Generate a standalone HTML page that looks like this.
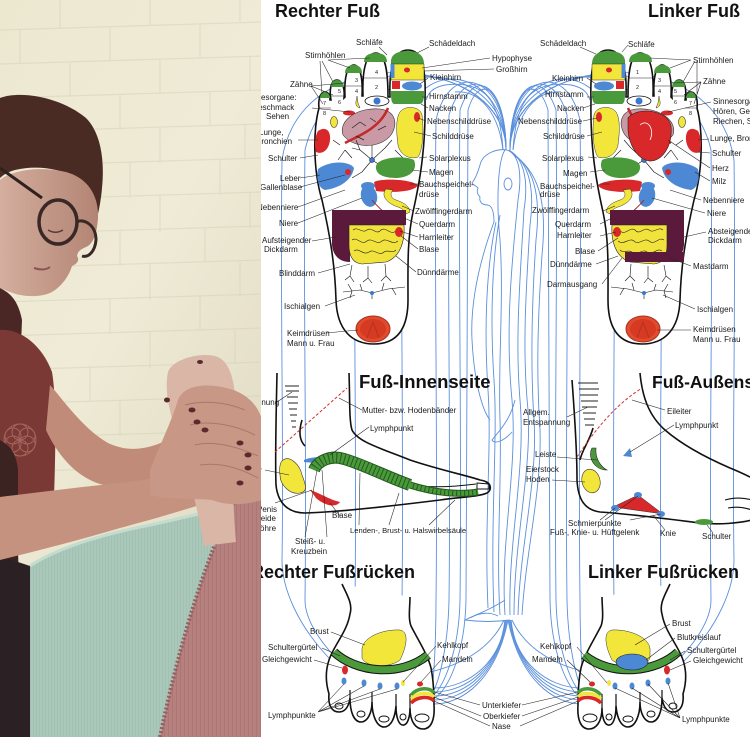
<!DOCTYPE html>
<html><head><meta charset="utf-8"><style>
html,body{margin:0;padding:0;background:#fff;}
svg{display:block;}
text{font-family:"Liberation Sans",Arial,sans-serif;}
.l{font-size:8px;fill:#1a1a1a;}
.n{font-size:5.5px;fill:#222;}
.t{font-size:18px;font-weight:bold;fill:#111;}
</style></head><body>
<svg width="750" height="737" viewBox="0 0 750 737" xmlns="http://www.w3.org/2000/svg">
<defs>
<clipPath id="pc"><rect x="0" y="0" width="261" height="737"/></clipPath>
<linearGradient id="wall" x1="0" y1="0" x2="0.6" y2="1">
<stop offset="0" stop-color="#ece8d0"/><stop offset="0.5" stop-color="#efebd6"/><stop offset="1" stop-color="#dfd9c1"/></linearGradient>
<linearGradient id="face" x1="0" y1="0" x2="1" y2="0">
<stop offset="0" stop-color="#d4ae9e"/><stop offset="1" stop-color="#b38474"/></linearGradient>
<pattern id="st" width="3" height="10" patternUnits="userSpaceOnUse"><rect width="3" height="10" fill="#aac8ba"/><rect width="1" height="10" fill="#a2c1b3"/></pattern>
<pattern id="pk" width="4" height="8" patternUnits="userSpaceOnUse"><rect width="4" height="8" fill="#b6807f"/><rect width="1" height="8" fill="#ab7675"/></pattern>

<g id="bl" fill="none" stroke="#5a8fdc" stroke-width="0.9">
<path d="M506,150 C506,90 480,70 468,110 C466,250 468,450 466,600 C465,650 450,690 432,700"/>
<path d="M506,150 C506,85 475,65 460,110 C458,250 462,450 460,600 C459,650 445,685 432,697"/>
<path d="M506,150 C506,80 465,62 449,115 C447,250 451,450 449,600 C448,645 440,680 432,694"/>
<path d="M506,150 C506,75 450,58 436,120 C434,260 438,450 436,600 C436,640 434,675 432,690"/>
<path d="M506,150 C506,70 420,50 402,130 C400,260 404,450 402,600 C402,640 410,680 430,703"/>
<path d="M506,150 C506,65 380,45 355,140 C353,280 357,450 355,600 C355,640 390,690 428,706"/>
<path d="M506,150 C506,60 330,40 305,150 C303,300 307,450 305,600 C305,640 370,700 426,709"/>
<path d="M506,150 C506,55 300,35 282,160 C280,300 284,450 282,560 C282,620 350,700 424,712"/>
<path d="M503,150 C500,100 485,80 445,85 C430,88 428,95 426,100"/>
<path d="M503,150 C498,110 478,90 455,92"/>
<path d="M505,620 C502,660 470,688 434,688"/>
<path d="M505,620 C500,665 468,692 434,692"/>
<path d="M506,620 C498,670 466,696 434,696"/>
<path d="M507,620 C497,675 464,700 434,700"/>
<path d="M508,620 C496,680 462,704 434,704"/>
<path d="M504,620 C490,650 460,665 430,672"/>
</g>

<g id="sole">
<path d="M319,108 C313,130 313,170 322,200 C330,235 335,265 336,300 C337,330 352,344 374,344 C396,344 408,330 408,300 C408,268 407,240 413,212 C419,185 426,150 425,100 C426,70 423,50 408,50 C393,50 389,70 390,97 L388,97 C388,70 385,53 376,53 C366,53 362,70 363,96 L362,96 C363,78 360,65 354,65 C347,65 344,78 345,97 L344,98 C345,88 342,80 337,80 C331,80 329,90 331,100 L330,100 C330,95 328,92 325,92 C320,92 318,100 319,108Z" fill="#fff" stroke="#111" stroke-width="1.6"/>
<path d="M391,64 C390,55 396,51 408,51 C419,51 424,56 424,64Z" fill="#4a9a3c"/>
<rect x="391" y="64" width="33" height="16" fill="#f2e63a" stroke="#333" stroke-width=".5"/>
<rect x="390.5" y="64" width="4" height="14" fill="#4d88d4"/>
<ellipse cx="407" cy="70" rx="3" ry="2.5" fill="#d8282a"/>
<rect x="392" y="81" width="8" height="8" fill="#d8282a"/>
<ellipse cx="412" cy="86" rx="10" ry="4.5" fill="#4d88d4"/>
<path d="M391,91 L424,91 C424,98 424,103 420,104 L394,104 C391,103 391,98 391,91Z" fill="#4a9a3c"/>
<path d="M364,62 C364,56 368,53 376,53 C383,53 387,56 387,62Z" fill="#4a9a3c"/>
<path d="M345,73 C345,68 348,65 354,65 C359,65 362,68 362,73Z" fill="#4a9a3c"/>
<path d="M331,87 C331,83 333,80 337,80 C341,80 344,83 344,87Z" fill="#4a9a3c"/>
<path d="M320,98 C320,95 322,92 325,92 C328,92 330,95 330,98Z" fill="#4a9a3c"/>
<path d="M364,78 L387,78 M346,86 L362,86 M331,96 L344,96 M320,108 L331,108" stroke="#222" stroke-width=".6"/>
<ellipse cx="377" cy="101" rx="12" ry="5" fill="#fff" stroke="#111" stroke-width=".8"/>
<circle cx="377" cy="101" r="3.5" fill="#3b78cf"/>
<path d="M357,96 C356,102 354,106 360,108 L358,103Z" fill="#f2e63a" stroke="#333" stroke-width=".5"/>
<ellipse cx="349" cy="113" rx="6" ry="2.5" fill="#d8282a"/>
<ellipse cx="334" cy="122" rx="3.5" ry="5.5" fill="#f2e63a" stroke="#333" stroke-width=".6"/>
<path d="M343,135 C338,120 358,107 380,109 C396,111 398,124 391,135 C381,148 355,150 343,135Z" fill="#c99aa5" stroke="#333" stroke-width=".6"/>
<path d="M388,108 C384,118 376,126 366,132 C358,137 350,140 345,143" stroke="#c42828" stroke-width="2.5" fill="none"/>
<path d="M352,128 L360,122 M360,122 L366,126 M370,118 L376,122 M356,136 L364,140 M378,130 L386,126" stroke="#222" stroke-width=".7" fill="none"/>
<path d="M318,131 C325,126 331,130 330,140 C329,150 322,155 316,152 C314,145 315,136 318,131Z" fill="#d8282a"/>
<path d="M400,112 C405,105 420,106 422,115 C424,130 423,150 418,157 C410,160 400,155 398,145 C396,130 396,118 400,112Z" fill="#f2e63a" stroke="#333" stroke-width=".5"/>
<ellipse cx="417" cy="117" rx="3" ry="5" fill="#d8282a"/>
<path d="M372,160 L360,150 M372,160 L385,148 M372,160 L362,172 M372,160 L388,170 M372,160 L372,145 M360,150 L352,148 M360,150 L356,140 M385,148 L392,140 M362,172 L352,178 M345,150 L338,160 M345,150 L352,158 M395,150 L405,160 M340,145 L333,140" stroke="#111" stroke-width=".6" fill="none"/>
<circle cx="372" cy="160" r="2.5" fill="#3b78cf" stroke="#111" stroke-width=".5"/>
<path d="M376,166 C378,157 405,155 414,160 C418,170 410,178 395,178 C385,178 375,175 376,166Z" fill="#4a9a3c"/>
<path d="M318,169 C330,160 350,161 354,168 C352,180 340,188 325,190 C318,188 316,178 318,169Z" fill="#4d88d4"/>
<ellipse cx="348" cy="172" rx="3" ry="3" fill="#d8282a"/>
<path d="M374,182 C382,178 410,179 418,185 C415,192 392,193 376,191Z" fill="#d8282a"/>
<ellipse cx="368" cy="186" rx="7" ry="4" fill="#4d88d4"/>
<ellipse cx="369" cy="196" rx="8" ry="11" fill="#4d88d4" transform="rotate(-15 369 196)"/>
<path d="M386,189 C380,196 388,204 398,207 C404,209 406,213 406,214 L410,212 C409,205 402,202 396,200 C390,198 390,193 393,190Z" fill="#f2e63a" stroke="#333" stroke-width=".5"/>
<path d="M372,200 C380,210 392,218 399,228" stroke="#b02020" stroke-width="1" fill="none"/>
<path d="M332,210 L406,210 L406,225 L350,225 L350,262 C340,262 333,256 332,245Z" fill="#5b1a3b"/>
<path d="M349,225 L404,225 C405,240 401,257 386,262 L362,264 C352,263 349,255 349,245Z" fill="#f1e33c" stroke="#222" stroke-width=".6"/>
<path d="M353,230 C358,226 362,234 367,230 C372,226 376,236 381,230 C386,226 390,236 396,231 M352,240 C357,236 361,246 367,241 C372,237 377,246 382,241 C387,237 392,246 398,241 M354,251 C359,247 363,256 369,252 C374,248 379,257 384,252 C388,249 392,254 396,250" stroke="#222" stroke-width=".6" fill="none"/>
<ellipse cx="399" cy="232" rx="4" ry="5" fill="#d8282a"/>
<path d="M352,265 L350,276 M350,276 L345,280 M350,276 L354,282 M368,266 L368,278 M368,278 L363,282 M368,278 L372,283 M385,264 L386,276 M386,276 L381,281 M386,276 L391,281 M343,292 L360,290 L372,293 L388,289 L405,287 M352,291 L348,284 M352,291 L350,298 M362,290 L360,284 M382,290 L384,283 M392,288 L396,295 M372,293 L372,299" stroke="#111" stroke-width=".6" fill="none"/>
<circle cx="372" cy="293" r="2" fill="#3b78cf"/>
<ellipse cx="373" cy="329" rx="17" ry="13" fill="#e24b2c" stroke="#a83222" stroke-width="1"/>
<ellipse cx="373" cy="329" rx="13" ry="10" fill="#d63a22"/>
<path d="M373,322 L367,338 M373,322 L379,338" stroke="#a83222" stroke-width=".8"/>
</g>

<g id="dors">
<path d="M342,584 C347,595 353,604 350,614 C347,632 334,645 329,660 C325,672 326,684 329,694 C328,704 331,712 339,712 C346,712 349,705 350,698 C350,712 354,722 361,722 C368,722 372,712 372,702 C372,716 377,727 384,727 C391,727 395,718 396,706 C396,718 399,726 404,725 C408,724 410,716 410,708 C410,722 416,729 423,729 C431,729 435,720 434,705 C434,690 433,678 431,668 C428,655 418,640 411,626 C408,618 410,607 410,597" fill="#fff" stroke="#111" stroke-width="1.6"/>
<path d="M350,698 L350,690 M372,702 L372,692 M396,706 L396,694 M410,708 L410,694" stroke="#111" stroke-width="1.2"/>
<ellipse cx="339" cy="706" rx="4" ry="3" fill="none" stroke="#111" stroke-width="1"/>
<ellipse cx="361" cy="714" rx="4" ry="3" fill="none" stroke="#111" stroke-width="1"/>
<ellipse cx="384" cy="719" rx="5" ry="3" fill="none" stroke="#111" stroke-width="1"/>
<ellipse cx="403" cy="717" rx="3" ry="3" fill="none" stroke="#111" stroke-width="1"/>
<ellipse cx="422" cy="718" rx="7" ry="4" fill="none" stroke="#111" stroke-width="1"/>
<path d="M362,652 C360,638 382,629 400,630 C410,632 406,648 400,660 C390,668 366,668 362,658Z" fill="#f2e63a" stroke="#333" stroke-width=".5"/>
<path d="M334,652 C355,672 400,678 428,655" fill="none" stroke="#111" stroke-width="9"/>
<path d="M334,652 C355,672 400,678 428,655" fill="none" stroke="#4a9a3c" stroke-width="7"/>
<ellipse cx="345" cy="670" rx="3" ry="4.5" fill="#d8282a"/>
<ellipse cx="344" cy="681" rx="2.5" ry="3.5" fill="#4d88d4"/>
<ellipse cx="364" cy="683" rx="2.5" ry="3.5" fill="#4d88d4"/>
<ellipse cx="380" cy="686" rx="2.5" ry="3.5" fill="#4d88d4"/>
<ellipse cx="397" cy="686" rx="2.5" ry="3.5" fill="#4d88d4"/>
<ellipse cx="403" cy="683" rx="2" ry="3" fill="#f2e63a"/>
<ellipse cx="420" cy="684" rx="3" ry="2.5" fill="#d8282a"/>
<path d="M411,695 C418,687 430,687 434,693" stroke="#4a9a3c" stroke-width="3.5" fill="none"/>
<path d="M411,699 C418,692 430,692 434,697" stroke="#f2e63a" stroke-width="3.5" fill="none"/>
<path d="M411,703 C418,696 430,696 434,701" stroke="#d8282a" stroke-width="3.5" fill="none"/>
</g>
</defs>

<rect width="750" height="737" fill="#fff"/>

<use href="#bl"/>
<use href="#bl" transform="translate(1016,0) scale(-1,1)"/>
<g fill="none" stroke="#5a8fdc" stroke-width="0.9">
<path d="M507,150 C495,148 482,155 480,165 C478,172 476,178 472,183 C474,186 477,186 478,188 C476,192 478,195 480,197 C479,202 482,205 488,205 C492,206 494,212 494,222"/>
<ellipse cx="508" cy="184" rx="4" ry="6"/>
<path d="M507,150 C520,155 522,175 518,200 C512,260 505,330 512,400 C518,470 500,540 505,615"/>
<path d="M509,150 C526,160 528,185 524,210 C520,280 515,340 520,400 C526,470 508,540 510,615"/>
<path d="M511,152 C532,165 534,195 530,225 C526,290 522,350 528,410 C532,470 514,540 514,615"/>
<path d="M513,154 C538,170 540,205 536,240 C532,300 530,360 534,420 C538,480 520,545 518,615"/>
<path d="M515,156 C544,176 546,215 542,255 C538,315 536,370 540,430 C542,490 526,550 522,615"/>
<path d="M505,150 C498,160 496,200 500,240 C504,300 498,360 500,420 C502,480 496,550 500,615"/>
<path d="M500,215 C492,260 490,320 494,380 C498,440 490,520 494,612"/>
<path d="M496,222 C486,270 484,330 488,390 C492,450 484,520 488,608"/>
<path d="M494,222 C480,260 470,300 472,340 C474,380 482,410 490,420"/>
<path d="M515,400 C510,420 500,430 492,440 C495,445 505,440 512,432"/>
<path d="M505,600 C490,610 475,615 465,620 C480,622 495,622 510,620"/>
<path d="M470,618 C480,612 490,612 498,616"/>
</g>

<use href="#sole"/>
<use href="#sole" transform="translate(1016,0) scale(-1,1)"/>
<path d="M628,118 C638,106 668,110 671,126 C673,146 662,162 649,161 C638,159 629,146 628,130Z" fill="#d8282a" stroke="#222" stroke-width=".6"/>
<path d="M640,125 C648,118 655,130 650,140" stroke="#fff" stroke-width=".8" fill="none"/>
<path d="M625,252 L684,252 L684,262 L625,262Z" fill="#5b1a3b"/>
<g class="n">
<text x="375" y="74">4</text><text x="375" y="89">2</text><text x="355" y="82">3</text><text x="355" y="93">4</text>
<text x="338" y="93">5</text><text x="338" y="104">6</text><text x="323" y="105">7</text><text x="323" y="115">8</text>
<text x="636" y="74">1</text><text x="636" y="89">2</text><text x="658" y="82">3</text><text x="658" y="93">4</text>
<text x="674" y="93">5</text><text x="674" y="104">6</text><text x="689" y="105">7</text><text x="689" y="115">8</text>
</g>

<use href="#dors"/>
<use href="#dors" transform="translate(1012,0) scale(-1,1)"/>
<ellipse cx="632" cy="662" rx="16" ry="8" fill="#4d88d4" stroke="#222" stroke-width=".6"/>

<g fill="none" stroke="#111" stroke-width="1.6">
<path d="M277,373 C276,420 275,460 276,485 C278,505 290,513 305,513 C340,512 400,505 440,500 C460,497 478,497 487,493 C492,490 491,484 486,482"/>
<path d="M349,373 C350,400 349,420 352,430 C358,442 380,448 410,460 C440,470 465,475 480,480 C486,481 490,483 490,487"/>
<path d="M302,420 C299,430 299,440 305,446"/>
<path d="M477,483 L489,484 L489,489 L477,489Z" stroke-width="1"/>
<path d="M420,486 C440,488 460,486 476,484" stroke-width="1"/>
</g>
<path d="M285,386 L299,386 M286,391 L299,391 M287,397 L298,397 M288,403 L298,403 M289,409 L297,409 M290,415 L297,415 M291,421 L296,421 M292,427 L296,427" stroke="#222" stroke-width=".9"/>
<path d="M275,452 L347,388" stroke="#d03030" stroke-width="1" stroke-dasharray="3,2"/>
<path d="M283,460 C290,455 300,465 302,475 C306,485 308,492 300,493 C290,495 280,485 280,475 C279,468 280,462 283,460Z" fill="#f2e63a" stroke="#333" stroke-width=".6"/>
<path d="M304,460 C312,456 325,458 332,454 C331,462 320,464 304,462Z" fill="#4d88d4"/>
<path d="M314,470 C318,460 332,455 344,459 C362,464 385,476 410,485" fill="none" stroke="#245a1c" stroke-width="12"/>
<path d="M314,470 C318,460 332,455 344,459 C362,464 385,476 410,485" fill="none" stroke="#4a9a3c" stroke-width="10" stroke-dasharray="3,1"/>
<path d="M410,485 C435,493 460,495 478,492" fill="none" stroke="#245a1c" stroke-width="7"/>
<path d="M410,485 C435,493 460,495 478,492" fill="none" stroke="#4a9a3c" stroke-width="5" stroke-dasharray="3,1"/>
<path d="M310,490 C320,493 330,500 340,502 C336,508 325,506 316,498Z" fill="#d8282a"/>

<g fill="none" stroke="#111" stroke-width="1.6">
<path d="M572,380 C575,420 577,450 577,480 C578,500 585,510 600,512 C630,514 660,518 700,523 C720,525 740,523 752,520"/>
<path d="M640,373 C642,395 648,415 665,430 C680,443 700,455 730,468 C740,472 748,476 752,478"/>
<path d="M593,428 C590,440 582,450 580,460"/>
<path d="M725,500 C735,497 745,498 752,500 M728,508 C738,506 746,508 752,510" stroke-width="1.1"/>
</g>
<path d="M578,383 L598,383 M579,389 L599,389 M580,395 L598,395 M581,401 L598,401 M582,407 L597,407 M583,413 L596,413 M584,419 L595,419 M585,425 L594,425" stroke="#222" stroke-width=".9"/>
<path d="M577,457 C595,430 615,405 642,388" fill="none" stroke="#d03030" stroke-width="1" stroke-dasharray="3,2"/>
<path d="M592,448 C587,458 595,470 607,470 C600,466 595,458 596,448Z" fill="#4a9a3c" stroke="#222" stroke-width=".6"/>
<ellipse cx="591" cy="481" rx="9" ry="12" fill="#f2e63a" stroke="#333" stroke-width=".6" transform="rotate(-15 591 481)"/>
<path d="M623,456 L630,448 L632,457Z" fill="#4d88d4"/>
<path d="M613,507 L638,495 L663,514Z" fill="#d8282a" stroke="#333" stroke-width=".5"/>
<ellipse cx="638" cy="495" rx="4" ry="3" fill="#4d88d4"/><ellipse cx="615" cy="508" rx="4" ry="3" fill="#4d88d4"/><ellipse cx="661" cy="514" rx="4" ry="3" fill="#4d88d4"/>
<ellipse cx="704" cy="522" rx="9" ry="3" fill="#4a9a3c"/>

<g stroke="#222" stroke-width=".55" fill="none">
<path d="M379,47 L387,55 M429,47 L417,53 M328,60 L350,68 M328,60 L370,58 M322,61 L333,82 M320,61 L322,94 M311,86 L345,83 M311,86 L333,95 M311,86 L323,104 M422,68 L490,58 M424,71 L494,69 M428,78 L420,84 M428,97 L422,97 M428,108 L421,104 M426,121 L418,118 M431,136 L414,132 M427,157 L419,158 M428,172 L412,170 M418,184 L410,184 M312,108 L350,112 M298,140 L318,140 M300,158 L318,155 M300,178 L320,175 M300,187 L345,175 M298,207 L345,190 M298,223 L362,198 M414,211 L402,206 M418,224 L404,218 M418,237 L400,231 M418,249 L401,236 M312,241 L336,237 M318,273 L350,264 M416,272 L396,256 M325,306 L355,295 M326,333 L358,330"/>
<path d="M580,47 L596,54 M628,45 L622,52 M691,60 L670,68 M691,60 L650,58 M695,61 L683,82 M697,61 L697,94 M701,82 L672,83 M701,82 L684,95 M701,82 L694,104 M587,78 L596,84 M587,97 L594,97 M583,108 L595,104 M583,121 L597,118 M587,136 L602,132 M588,157 L597,158 M590,172 L605,170 M600,184 L610,184 M711,102 L668,112 M709,139 L698,140 M710,153 L698,152 M710,168 L668,140 M710,181 L695,172 M701,200 L670,190 M705,213 L652,198 M603,211 L615,206 M600,224 L612,218 M600,236 L616,232 M598,251 L618,238 M706,232 L684,237 M691,266 L670,258 M596,264 L618,256 M602,284 L622,258 M695,309 L663,295 M691,330 L657,330"/>
<path d="M362,410 L339,398 M369,427 L330,455 M277,402 L292,392 M265,470 L289,475 M275,503 L312,490 M359,525 L360,473 M389,525 L399,493 M429,525 L455,500 M305,537 L317,470 M327,537 L322,470 M340,516 L330,503"/>
<path d="M567,417 L588,407 M665,410 L632,400 M674,425 L630,452 M557,457 L597,460 M552,480 L585,482 M600,520 L615,508 M605,520 L638,496 M630,520 L661,514 M665,530 L653,515 M713,533 L707,525"/>
<path d="M331,632 L365,645 M322,648 L340,656 M314,660 L342,668 M436,646 L403,682 M441,660 L421,682 M318,712 L344,684 M318,712 L364,686 M318,712 L380,689 M318,712 L397,689 M480,705 L434,692 M481,716 L434,697 M490,726 L434,701"/>
<path d="M670,624 L635,645 M675,638 L646,660 M685,651 L670,660 M691,661 L670,670 M577,647 L607,683 M567,660 L590,682 M680,718 L668,683 M680,718 L648,684 M680,718 L632,688 M680,718 L615,688 M522,705 L578,692 M522,716 L578,697 M520,726 L578,701"/>
</g>

<text class="t" x="275" y="17">Rechter Fuß</text>
<text class="t" x="648" y="17">Linker Fuß</text>
<text class="t" x="359" y="388" style="font-size:18.5px">Fuß-Innenseite</text>
<text class="t" x="652" y="388" style="font-size:17.5px">Fuß-Außenseite</text>
<text class="t" x="251" y="578">Rechter Fußrücken</text>
<text class="t" x="588" y="578">Linker Fußrücken</text>

<g class="l">
<text x="356" y="45">Schläfe</text><text x="429" y="46">Schädeldach</text><text x="305" y="58">Stirnhöhlen</text>
<text x="492" y="61">Hypophyse</text><text x="496" y="72">Großhirn</text>
<text x="430" y="80">Kleinhirn</text><text x="290" y="87">Zähne</text>
<text x="245" y="100">Sinnesorgane:</text><text x="252" y="110">Geschmack</text><text x="266" y="119">Sehen</text>
<text x="429" y="99">Hirnstamm</text><text x="429" y="111">Nacken</text><text x="427" y="124">Nebenschilddrüse</text>
<text x="259" y="135">Lunge,</text><text x="256" y="144">Bronchien</text>
<text x="432" y="139">Schilddrüse</text><text x="268" y="161">Schulter</text><text x="429" y="161">Solarplexus</text>
<text x="429" y="175">Magen</text><text x="280" y="181">Leber</text><text x="260" y="190">Gallenblase</text>
<text x="419" y="187">Bauchspeichel-</text><text x="419" y="197">drüse</text>
<text x="257" y="210">Nebenniere</text><text x="415" y="214">Zwölffingerdarm</text><text x="279" y="226">Niere</text>
<text x="419" y="227">Querdarm</text><text x="262" y="243">Aufsteigender</text><text x="264" y="252">Dickdarm</text>
<text x="419" y="240">Harnleiter</text><text x="419" y="252">Blase</text><text x="279" y="276">Blinddarm</text>
<text x="417" y="275">Dünndärme</text><text x="284" y="309">Ischialgen</text><text x="287" y="336">Keimdrüsen</text><text x="287" y="346">Mann u. Frau</text>

<text x="540" y="46">Schädeldach</text><text x="628" y="47">Schläfe</text><text x="693" y="63">Stirnhöhlen</text>
<text x="552" y="81">Kleinhirn</text><text x="703" y="84">Zähne</text><text x="545" y="97">Hirnstamm</text>
<text x="713" y="104">Sinnesorgane:</text><text x="713" y="114">Hören, Geschmack</text><text x="713" y="124">Riechen, Sehen</text>
<text x="557" y="111">Nacken</text><text x="518" y="124">Nebenschilddrüse</text><text x="543" y="139">Schilddrüse</text>
<text x="710" y="141">Lunge, Bronchien</text><text x="712" y="156">Schulter</text><text x="542" y="161">Solarplexus</text>
<text x="712" y="171">Herz</text><text x="563" y="176">Magen</text><text x="712" y="184">Milz</text>
<text x="540" y="189">Bauchspeichel-</text><text x="540" y="197">drüse</text>
<text x="703" y="203">Nebenniere</text><text x="532" y="213">Zwölffingerdarm</text><text x="707" y="216">Niere</text>
<text x="555" y="227">Querdarm</text><text x="708" y="234">Absteigender</text><text x="708" y="243">Dickdarm</text>
<text x="557" y="238">Harnleiter</text><text x="575" y="254">Blase</text><text x="550" y="267">Dünndärme</text>
<text x="693" y="269">Mastdarm</text><text x="547" y="287">Darmausgang</text><text x="697" y="312">Ischialgen</text>
<text x="693" y="332">Keimdrüsen</text><text x="693" y="342">Mann u. Frau</text>

<text x="232" y="405">Entspannung</text><text x="362" y="413">Mutter- bzw. Hodenbänder</text><text x="370" y="431">Lymphpunkt</text>
<text x="217" y="473">Gebärmutter</text>
<text x="257" y="512">Penis</text><text x="247" y="521">Scheide</text><text x="240" y="531">Harnröhre</text>
<text x="332" y="518">Blase</text><text x="350" y="533" style="font-size:7.6px">Lenden-, Brust- u. Halswirbelsäule</text>
<text x="295" y="544">Steiß- u.</text><text x="291" y="554">Kreuzbein</text>

<text x="523" y="415">Allgem.</text><text x="523" y="425">Entspannung</text><text x="667" y="414">Eileiter</text>
<text x="675" y="428">Lymphpunkt</text><text x="535" y="457">Leiste</text><text x="526" y="472">Eierstock</text><text x="526" y="482">Hoden</text>
<text x="568" y="526">Schmierpunkte</text><text x="550" y="535">Fuß-, Knie- u. Hüftgelenk</text>
<text x="660" y="536">Knie</text><text x="702" y="539">Schulter</text>

<text x="310" y="634">Brust</text><text x="268" y="650">Schultergürtel</text><text x="262" y="662">Gleichgewicht</text>
<text x="437" y="648">Kehlkopf</text><text x="442" y="662">Mandeln</text><text x="268" y="718">Lymphpunkte</text>
<text x="482" y="708">Unterkiefer</text><text x="483" y="719">Oberkiefer</text><text x="492" y="729">Nase</text>

<text x="672" y="626">Brust</text><text x="677" y="640">Blutkreislauf</text><text x="687" y="653">Schultergürtel</text>
<text x="693" y="663">Gleichgewicht</text><text x="540" y="649">Kehlkopf</text><text x="532" y="662">Mandeln</text>
<text x="682" y="722">Lymphpunkte</text>
</g>

<g clip-path="url(#pc)">
<rect x="0" y="0" width="262" height="737" fill="url(#wall)"/>
<g stroke="#d8d2b9" stroke-width="1.2" fill="none" opacity=".55">
<path d="M0,30 L262,22 M0,64 L262,56 M0,98 L262,90 M0,132 L262,124 M0,166 L262,158 M0,200 L262,192 M0,234 L262,226 M0,268 L262,260 M0,302 L262,294 M0,336 L262,328 M0,370 L262,362 M0,404 L262,396 M0,438 L262,430 M0,472 L262,464"/>
<path d="M60,0 L60,28 M150,0 L150,25 M240,0 L240,22 M20,30 L20,63 M110,28 L110,60 M200,25 L200,58 M70,63 L70,97 M160,60 L160,93 M250,57 L250,90 M120,95 L120,130 M210,92 L210,126 M160,128 L160,163 M245,125 L245,160 M130,162 L130,198 M220,160 L220,195 M160,196 L160,232 M250,193 L250,228 M120,230 L120,266 M205,228 L205,262 M150,264 L150,300 M240,262 L240,296 M110,298 L110,334 M200,296 L200,330 M150,332 L150,368 M235,330 L235,364 M90,366 L90,402 M180,364 L180,398 M120,400 L120,436"/>
</g>
<path d="M0,98 C22,90 62,98 86,118 C100,132 105,158 102,188 C101,200 99,210 97,218 C95,200 88,186 76,178 C60,168 35,165 15,170 C8,172 3,175 0,178Z" fill="#4a2b24"/>
<path d="M0,180 C12,170 40,166 66,172 C88,178 99,196 98,218 C97,232 94,242 88,246 C82,249 78,250 77,256 C80,260 77,264 72,266 C69,276 62,286 52,292 C40,298 22,297 10,292 L0,288Z" fill="url(#face)"/>
<path d="M0,168 L42,198" stroke="#2e2220" stroke-width="3"/>
<ellipse cx="58" cy="222" rx="19" ry="22" fill="#b99081" fill-opacity=".35" stroke="#3a2826" stroke-width="3.5"/>
<path d="M76,222 C84,218 96,225 96,240 C95,252 88,258 82,256" stroke="#3a2826" stroke-width="3" fill="none"/>
<path d="M48,230 C53,233 58,233 63,230" stroke="#5a3a34" stroke-width="1.5" fill="none"/>
<path d="M34,268 C40,270 46,270 50,267" stroke="#8a5550" stroke-width="2" fill="none"/>
<path d="M0,288 C10,293 18,300 22,320 L20,370 L0,370Z" fill="#4a2624"/>
<path d="M0,330 C20,328 42,345 52,372 C56,395 56,440 54,497 L0,500Z" fill="#7a3935"/>
<g fill="none" stroke="#a4655c" stroke-width="1">
<circle cx="20" cy="440" r="16"/><circle cx="20" cy="432" r="8"/><circle cx="20" cy="448" r="8"/><circle cx="13" cy="436" r="8"/><circle cx="27" cy="436" r="8"/><circle cx="13" cy="444" r="8"/><circle cx="27" cy="444" r="8"/>
</g>
<path d="M0,440 C8,445 16,450 18,470 L18,540 C18,570 20,590 20,605 L0,605Z" fill="#3b2321"/>
<path d="M0,556 L30,566 L30,737 L0,737Z" fill="#2b2124"/>
<path d="M50,385 C62,398 82,428 108,443 C135,456 160,445 183,432 L192,470 C165,486 130,492 100,484 C74,476 56,452 46,430Z" fill="#c08c79"/>
<path d="M30,566 C60,546 110,533 150,525 C178,519 198,514 216,510 L226,528 C202,590 182,660 166,737 L30,737Z" fill="url(#st)"/>
<path d="M30,566 C60,546 110,533 150,525 C178,519 198,514 216,510" stroke="#c3dccf" stroke-width="3" fill="none"/>
<path d="M262,452 L262,737 L160,737 C176,660 196,590 220,532 C234,500 248,474 262,452Z" fill="url(#pk)"/>
<path d="M160,737 C176,660 196,590 220,532 C234,500 248,474 262,452" stroke="#955f60" stroke-width="4" stroke-dasharray="2,2" fill="none"/>
<path d="M0,497 C40,492 90,486 128,482 C160,478 185,472 205,466 L215,500 C185,510 150,520 120,528 C80,540 40,550 0,560Z" fill="#c69280"/>
<path d="M168,372 C172,360 198,352 215,356 C230,360 237,382 235,420 C233,460 232,500 236,542 L204,546 C198,510 188,470 178,440 C170,412 164,392 168,372Z" fill="#d9b6a6"/>
<path d="M150,470 C160,445 172,420 178,400 C184,385 206,383 226,388 C246,392 258,405 262,420 L262,500 C245,505 228,506 212,500 C192,498 170,500 150,495Z" fill="#c99785"/>
<path d="M185,405 C205,400 225,402 245,410 M190,425 C210,420 235,425 255,435 M195,445 C215,440 240,448 258,456 M200,465 C220,462 240,468 258,478" stroke="#a87868" stroke-width="1" fill="none"/>
<g fill="#5a2a2c">
<ellipse cx="192" cy="410" rx="3.5" ry="2.5"/><ellipse cx="197" cy="422" rx="3.5" ry="2.5"/><ellipse cx="205" cy="430" rx="3.5" ry="2.5"/>
<ellipse cx="240" cy="443" rx="3.5" ry="2.5"/><ellipse cx="248" cy="455" rx="3.5" ry="2.5"/><ellipse cx="248" cy="468" rx="3.5" ry="2.5"/>
<ellipse cx="240" cy="483" rx="3.5" ry="2.5"/><ellipse cx="167" cy="400" rx="3" ry="2.5"/><ellipse cx="200" cy="362" rx="3" ry="2"/>
</g>
</g>
</svg>
</body></html>
